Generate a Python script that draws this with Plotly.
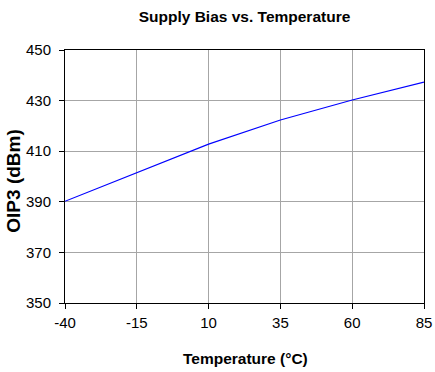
import plotly.graph_objects as go

temperature = [-40, -15, 10, 35, 60, 85]
oip3 = [390.2, 401.6, 412.8, 422.3, 430.2, 437.3]
x_ticks = [-40, -15, 10, 35, 60, 85]
y_ticks = [350, 370, 390, 410, 430, 450]

W, H = 435, 372
L, R, T, B = 65, 11, 50, 69
pw = W - L - R
ph = H - T - B

fig = go.Figure()
fig.add_trace(go.Scatter(x=temperature, y=oip3, mode="lines",
                         line=dict(color="#0000ff", width=1.1), showlegend=False))

tickfont = dict(family="Liberation Sans, Arial, sans-serif", size=15, color="black")
axis_common = dict(showline=True, linecolor="black", linewidth=1, mirror=True,
                   showgrid=True, gridcolor="#a6a6a6", gridwidth=1,
                   ticks="outside", ticklen=5, tickcolor="black", tickwidth=1,
                   zeroline=False, tickfont=tickfont, automargin=False)

fig.update_xaxes(range=[-40, 85], tickvals=x_ticks, ticktext=[str(v) for v in x_ticks],
                 ticklabelstandoff=1, **axis_common)
fig.update_yaxes(range=[350, 450], tickvals=y_ticks, ticktext=[str(v) for v in y_ticks],
                 ticklabelstandoff=5, **axis_common)

bold = "Liberation Sans, Arial, sans-serif"

fig.update_layout(
    width=W, height=H, autosize=False,
    margin=dict(l=L, r=R, t=T, b=B, pad=0, autoexpand=False),
    paper_bgcolor="white", plot_bgcolor="white",
    title=dict(text="<b>Supply Bias vs. Temperature</b>", x=(244.5) / W, xanchor="center",
               yref="container", y=1 - 17 / H, yanchor="middle",
               font=dict(family=bold, size=15.5, color="black")),
    annotations=[
        dict(text="<b>Temperature (°C)</b>", xref="paper", yref="paper",
             x=(245 - L) / pw, y=(T + ph - 358) / ph, xanchor="center", yanchor="middle",
             showarrow=False, font=dict(family=bold, size=15.5, color="black")),
        dict(text="<b>OIP3 (dBm)</b>", xref="paper", yref="paper",
             x=(14 - L) / pw, y=(T + ph - 181.7) / ph, xanchor="center", yanchor="middle",
             textangle=-90, showarrow=False,
             font=dict(family=bold, size=19, color="black")),
    ],
)

fig.write_html("out.html",
               config={"displayModeBar": False, "responsive": False},
               post_script="document.body.style.margin='0';document.body.style.padding='0';"
                           "document.body.style.overflow='hidden';"
                           "document.documentElement.style.overflow='hidden';")
